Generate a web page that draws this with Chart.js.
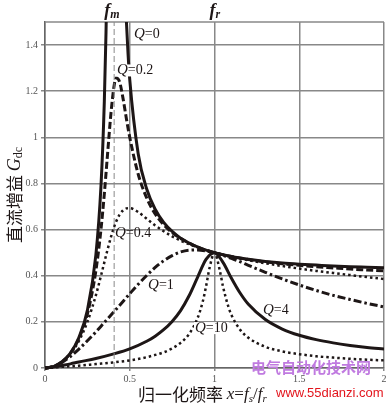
<!DOCTYPE html>
<html>
<head>
<meta charset="utf-8">
<script src="https://cdn.jsdelivr.net/npm/chart.js@4.4.1/dist/chart.umd.min.js"></script>
<style>
  body { margin: 0; background: #fff; }
  canvas { display: block; }
</style>
</head>
<body>
<canvas id="gain" width="389" height="407"></canvas>
<script>
// axis ticks
const xTicks = [0, 0.5, 1, 1.5, 2];
const yTicks = [0, 0.2, 0.4, 0.6, 0.8, 1, 1.2, 1.4];
const fmX = 0.408;

// Q = 0 (two branches, broken at fm)
const q0X = [0, 0.05, 0.1, 0.15, 0.2, 0.25, 0.3, 0.33, 0.35, 0.36, 0.365, 0.42, 0.475, 0.48, 0.49, 0.5, 0.55, 0.6, 0.65, 0.7, 0.75, 0.8, 0.85, 0.9, 0.95, 1, 1.1, 1.2, 1.3, 1.4, 1.5, 1.6, 1.7, 1.8, 1.9, 2];
const q0Y = [0, 0.006, 0.027, 0.065, 0.132, 0.25, 0.489, 0.785, 1.156, 1.457, 1.66, null, 1.594, 1.506, 1.362, 1.25, 0.928, 0.776, 0.688, 0.631, 0.592, 0.563, 0.542, 0.525, 0.511, 0.5, 0.483, 0.471, 0.462, 0.455, 0.45, 0.446, 0.442, 0.439, 0.437, 0.435];

// Q = 0.2
const q02X = [0, 0.05, 0.1, 0.15, 0.2, 0.25, 0.3, 0.33, 0.35, 0.37, 0.39, 0.408, 0.42, 0.44, 0.46, 0.48, 0.5, 0.55, 0.6, 0.65, 0.7, 0.75, 0.8, 0.9, 1, 1.1, 1.2, 1.3, 1.4, 1.5, 1.6, 1.7, 1.8, 1.9, 2];
const q02Y = [0, 0.006, 0.027, 0.064, 0.128, 0.234, 0.421, 0.599, 0.755, 0.936, 1.111, 1.225, 1.257, 1.241, 1.17, 1.082, 1.0, 0.84, 0.737, 0.668, 0.621, 0.587, 0.562, 0.524, 0.5, 0.483, 0.47, 0.46, 0.452, 0.445, 0.439, 0.434, 0.429, 0.425, 0.421];

// Q = 0.4
const q04X = [0, 0.05, 0.1, 0.15, 0.2, 0.25, 0.3, 0.33, 0.35, 0.37, 0.39, 0.408, 0.42, 0.44, 0.46, 0.48, 0.5, 0.55, 0.6, 0.65, 0.7, 0.75, 0.8, 0.9, 1, 1.1, 1.2, 1.3, 1.4, 1.5, 1.6, 1.7, 1.8, 1.9, 2];
const q04Y = [0, 0.006, 0.026, 0.062, 0.117, 0.2, 0.315, 0.399, 0.458, 0.516, 0.57, 0.612, 0.635, 0.665, 0.683, 0.692, 0.693, 0.676, 0.647, 0.618, 0.593, 0.571, 0.552, 0.523, 0.5, 0.482, 0.467, 0.454, 0.442, 0.431, 0.421, 0.412, 0.403, 0.394, 0.386];

// Q = 1
const q1X = [0, 0.05, 0.1, 0.15, 0.2, 0.25, 0.3, 0.35, 0.4, 0.45, 0.5, 0.55, 0.6, 0.65, 0.7, 0.75, 0.8, 0.85, 0.9, 0.95, 1, 1.05, 1.1, 1.15, 1.2, 1.3, 1.4, 1.5, 1.6, 1.7, 1.8, 1.9, 2];
const q1Y = [0, 0.006, 0.024, 0.05, 0.082, 0.118, 0.156, 0.197, 0.238, 0.28, 0.322, 0.363, 0.401, 0.436, 0.465, 0.487, 0.503, 0.511, 0.512, 0.508, 0.5, 0.489, 0.475, 0.461, 0.445, 0.415, 0.386, 0.36, 0.336, 0.315, 0.297, 0.28, 0.265];

// Q = 4
const q4X = [0, 0.05, 0.1, 0.15, 0.2, 0.3, 0.4, 0.5, 0.6, 0.65, 0.7, 0.75, 0.8, 0.85, 0.9, 0.95, 1, 1.05, 1.1, 1.15, 1.2, 1.3, 1.4, 1.5, 1.6, 1.7, 1.8, 1.9, 2];
const q4Y = [0, 0.004, 0.011, 0.018, 0.026, 0.041, 0.06, 0.083, 0.116, 0.138, 0.166, 0.202, 0.249, 0.313, 0.393, 0.471, 0.5, 0.458, 0.389, 0.326, 0.276, 0.21, 0.169, 0.142, 0.123, 0.109, 0.098, 0.089, 0.082];

// Q = 10
const q10X = [0, 0.05, 0.1, 0.2, 0.3, 0.4, 0.5, 0.6, 0.7, 0.75, 0.8, 0.85, 0.9, 0.93, 0.95, 0.97, 1, 1.03, 1.05, 1.08, 1.1, 1.15, 1.2, 1.3, 1.4, 1.5, 1.6, 1.7, 1.8, 1.9, 2];
const q10Y = [0, 0.002, 0.005, 0.01, 0.017, 0.024, 0.033, 0.047, 0.068, 0.085, 0.109, 0.147, 0.216, 0.286, 0.353, 0.431, 0.5, 0.427, 0.354, 0.27, 0.23, 0.167, 0.131, 0.092, 0.072, 0.06, 0.051, 0.045, 0.04, 0.036, 0.033];

// curve labels: [text after Q, x, y in data units, white backing]
const curveLabels = [
	['=0', 0.525, 1.446, false],
	['=0.2', 0.425, 1.29, true],
	['=0.4', 0.413, 0.584, false],
	['=1', 0.608, 0.359, false],
	['=4', 1.286, 0.251, false],
	['=10', 0.885, 0.173, true]
];

const INK = '#1d1616';
const SERIF = '"Liberation Serif", "DejaVu Serif", serif';
const CJK = '"Noto Sans CJK SC", sans-serif';

function pts(xs, ys)
{
	return xs.map((x, i) => ({ x: x, y: ys[i] }));
}

function line(data, dash, width)
{
	return {
		data: data,
		borderColor: INK,
		borderWidth: width,
		borderDash: dash,
		pointRadius: 0,
		cubicInterpolationMode: 'monotone',
		spanGaps: false,
		clip: { left: 0, top: 0, right: 0, bottom: 4 }
	};
}

function drawRich(ctx, x, y, parts)
{
	let cx = x;
	parts.forEach(p => {
		ctx.font = p.font;
		ctx.fillText(p.t, cx, y + (p.dy || 0));
		cx += ctx.measureText(p.t).width;
	});
	return cx;
}

function richWidth(ctx, parts)
{
	let w = 0;
	parts.forEach(p => {
		ctx.font = p.font;
		w += ctx.measureText(p.t).width;
	});
	return w;
}

const textPlugin = {
	id: 'texts',
	beforeDatasetsDraw(chart)
	{
		const ctx = chart.ctx;
		const a = chart.chartArea;
		ctx.save();
		ctx.strokeStyle = '#888';
		ctx.lineWidth = 1.5;
		ctx.beginPath();
		ctx.moveTo(a.left, a.top);
		ctx.lineTo(a.right, a.top);
		ctx.stroke();
		ctx.restore();
	},
	afterDraw(chart)
	{
		const ctx = chart.ctx;
		const a = chart.chartArea;
		const xs = chart.scales.x;
		const ys = chart.scales.y;
		ctx.save();
		ctx.fillStyle = INK;
		ctx.textBaseline = 'middle';
		ctx.textAlign = 'left';

		// curve labels
		curveLabels.forEach(l => {
			const px = xs.getPixelForValue(l[1]);
			const py = ys.getPixelForValue(l[2]);
			const parts = [
				{ t: 'Q', font: 'italic 15px ' + SERIF },
				{ t: l[0], font: '14px ' + SERIF }
			];
			if (l[3])
			{
				const w = richWidth(ctx, parts);
				ctx.fillStyle = '#fff';
				ctx.fillRect(px - 1, py - 6, w + 2, 12);
			}
			ctx.fillStyle = INK;
			drawRich(ctx, px, py, parts);
		});

		// fm / fr above the plot
		const fParts = sub => [
			{ t: 'f', font: 'italic bold 18px ' + SERIF },
			{ t: sub, font: 'italic bold 12px ' + SERIF, dy: 4 }
		];
		drawRich(ctx, xs.getPixelForValue(fmX) - 10, 11, fParts('m'));
		drawRich(ctx, xs.getPixelForValue(1) - 5, 11, fParts('r'));

		// y title
		const yParts = [
			{ t: '直流增益 ', font: '17px ' + CJK },
			{ t: 'G', font: 'italic 18px ' + SERIF },
			{ t: 'dc', font: '12px ' + SERIF, dy: 4 }
		];
		ctx.translate(15, (a.top + a.bottom) / 2);
		ctx.rotate(-Math.PI / 2);
		drawRich(ctx, -richWidth(ctx, yParts) / 2, 0, yParts);
		ctx.setTransform(1, 0, 0, 1, 0, 0);

		// x title
		const xParts = [
			{ t: '归一化频率 ', font: '17px ' + CJK },
			{ t: 'x', font: 'italic 17px ' + SERIF },
			{ t: '=', font: '17px ' + SERIF },
			{ t: 'f', font: 'italic 17px ' + SERIF },
			{ t: 's', font: 'italic 11px ' + SERIF, dy: 4 },
			{ t: '/', font: '17px ' + SERIF },
			{ t: 'f', font: 'italic 17px ' + SERIF },
			{ t: 'r', font: 'italic 11px ' + SERIF, dy: 4 }
		];
		drawRich(ctx, 138, 395, xParts);

		// watermark
		ctx.font = 'bold 15px ' + CJK;
		ctx.fillStyle = '#c07ae0';
		ctx.fillText('电气自动化技术网', 251, 367);
		ctx.font = '13px "Liberation Sans", Arial, sans-serif';
		ctx.fillStyle = '#e3141c';
		ctx.fillText('www.55dianzi.com', 276, 393);
		ctx.restore();
	}
};

new Chart(document.getElementById('gain'), {
	type: 'line',
	data: {
		datasets: [
			{
				data: [{ x: fmX, y: 0 }, { x: fmX, y: 1.5 }],
				borderColor: '#8a8a8a',
				borderWidth: 1,
				borderDash: [6, 3],
				pointRadius: 0
			},
			line(pts(q10X, q10Y), [2.5, 3], 2.5),
			line(pts(q4X, q4Y), [], 3),
			line(pts(q1X, q1Y), [8, 3, 2.5, 3], 3),
			line(pts(q04X, q04Y), [2.5, 3], 2.5),
			line(pts(q02X, q02Y), [7, 3], 3),
			line(pts(q0X, q0Y), [], 3)
		]
	},
	options: {
		responsive: false,
		animation: false,
		layout: { padding: { top: 22, right: 5, left: 0, bottom: 0 } },
		plugins: {
			legend: { display: false },
			tooltip: { enabled: false }
		},
		scales: {
			x: {
				type: 'linear',
				min: 0,
				max: 2,
				afterFit: s => { s.height = 39; },
				afterBuildTicks: s => { s.ticks = xTicks.map(v => ({ value: v })); },
				grid: { color: '#888', lineWidth: 1.5, tickLength: 3 },
				border: { color: '#666', width: 1.5 },
				ticks: {
					color: '#555',
					padding: 2,
					maxRotation: 0,
					font: { family: SERIF, size: 10 },
					callback: v => String(v)
				}
			},
			y: {
				min: 0,
				max: 1.5,
				afterFit: s => { s.width = 45; },
				afterBuildTicks: s => { s.ticks = yTicks.map(v => ({ value: v })); },
				grid: { color: '#888', lineWidth: 1.5, tickLength: 4 },
				border: { color: '#666', width: 1.5 },
				ticks: {
					color: '#555',
					padding: 3,
					font: { family: SERIF, size: 10 },
					callback: v => String(v)
				}
			}
		}
	},
	plugins: [textPlugin]
});
</script>
</body>
</html>
